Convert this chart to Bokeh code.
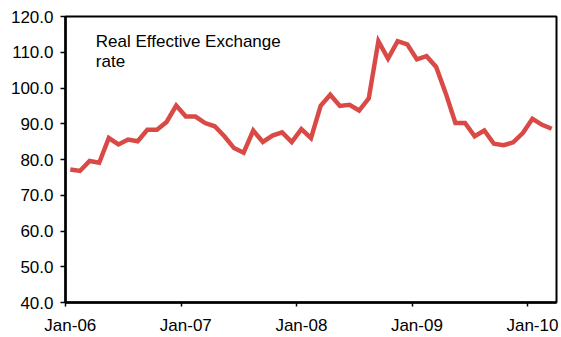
from bokeh.plotting import figure
from bokeh.models import Range1d, FixedTicker, PrintfTickFormatter, Label, ColumnDataSource
from bokeh.embed import file_html
from bokeh.resources import INLINE

# Monthly real effective exchange rate index, Jan-06 .. Mar-10
months = [f"{m}-{y:02d}" for y in range(6, 11) for m in
          ["Jan", "Feb", "Mar", "Apr", "May", "Jun", "Jul", "Aug", "Sep", "Oct", "Nov", "Dec"]][:51]
reer = [
    77.2, 76.8, 79.6, 79.1, 86.0, 84.2, 85.6, 85.1, 88.3, 88.3, 90.5, 95.1,
    92.0, 92.0, 90.2, 89.3, 86.5, 83.2, 81.9, 88.1, 84.9, 86.7, 87.6, 84.9,
    88.5, 86.0, 95.0, 98.1, 95.0, 95.3, 93.7, 97.1, 113.1, 108.2, 113.1, 112.2,
    108.0, 108.9, 105.9, 98.5, 90.2, 90.2, 86.5, 88.1, 84.4, 84.0, 84.8, 87.4,
    91.4, 89.7, 88.6,
]
year_labels = ["Jan-06", "Jan-07", "Jan-08", "Jan-09", "Jan-10"]
y_ticks = [40, 50, 60, 70, 80, 90, 100, 110, 120]

# x is measured in months from the start of Jan-06; each value sits mid-month
x = [i + 0.5 for i in range(len(reer))]
src = ColumnDataSource(data=dict(x=x, y=reer, month=months))

FONT = "Liberation Sans"
RED = "#D94A47"

p = figure(width=561, height=337, output_backend="svg", toolbar_location=None,
           x_range=Range1d(0, 51), y_range=Range1d(40, 120),
           min_border_left=65, min_border_right=5, min_border_top=16, min_border_bottom=32)

p.line("x", "y", source=src, line_color=RED, line_width=4.5, line_join="miter")

p.grid.visible = False
p.background_fill_color = "white"
p.border_fill_color = "white"
p.outline_line_color = "black"
p.outline_line_width = 2

# x axis: tick marks at year boundaries, labels centred on January
year_starts = [12 * i for i in range(len(year_labels))]
label_pos = [s + 0.5 for s in year_starts]
xa = p.xaxis[0]
xa.ticker = FixedTicker(ticks=label_pos, minor_ticks=year_starts)
xa.major_label_overrides = {pos: lab for pos, lab in zip(label_pos, year_labels)}
xa.major_tick_out = 0
xa.major_tick_in = 0
xa.minor_tick_out = 4
xa.minor_tick_in = 0
xa.minor_tick_line_color = "black"
xa.minor_tick_line_width = 1.5
xa.axis_line_width = 2.5
xa.axis_line_color = "black"
xa.major_label_standoff = 9
xa.major_label_text_font = FONT
xa.major_label_text_font_size = "17px"
xa.major_label_text_color = "black"

ya = p.yaxis[0]
ya.ticker = FixedTicker(ticks=y_ticks, minor_ticks=[])
ya.formatter = PrintfTickFormatter(format="%.1f")
ya.major_tick_out = 5
ya.major_tick_in = 0
ya.major_tick_line_width = 1.5
ya.major_tick_line_color = "black"
ya.axis_line_width = 2.5
ya.axis_line_color = "black"
ya.major_label_standoff = 7
ya.major_label_text_font = FONT
ya.major_label_text_font_size = "17px"
ya.major_label_text_color = "black"

for txt, yv in [("Real Effective Exchange", 113.1), ("rate", 107.5)]:
    p.add_layout(Label(x=3.15, y=yv, text=txt, text_font=FONT, text_font_size="17px",
                       text_color="black", text_baseline="alphabetic", text_align="left"))

open("out.html", "w").write(file_html(p, INLINE))
